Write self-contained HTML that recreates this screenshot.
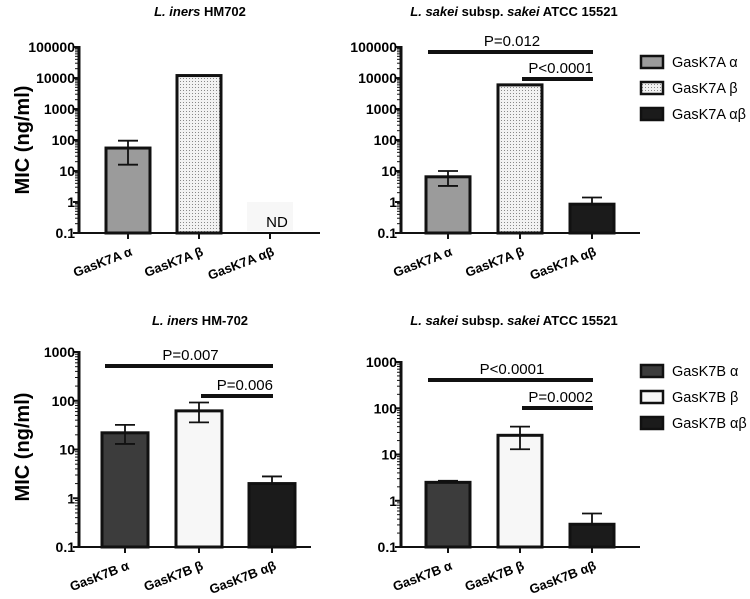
<!DOCTYPE html>
<html><head><meta charset="utf-8"><style>
html,body{margin:0;padding:0;background:#fff;}
svg{display:block;font-family:"Liberation Sans",Arial,sans-serif;}
</style></head><body>
<svg id="fig" width="750" height="599" viewBox="0 0 750 599" xmlns="http://www.w3.org/2000/svg">
<defs>
<pattern id="dots" width="3" height="3" patternUnits="userSpaceOnUse">
<rect width="3" height="3" fill="#f2f2f2"/><rect width="1" height="1" fill="#888"/>
</pattern>
</defs>
</svg>
<script>
const categoriesA = ["GasK7A α","GasK7A β","GasK7A αβ"];
const categoriesB = ["GasK7B α","GasK7B β","GasK7B αβ"];
const valsTL = [55, 12000, null];
const errLoTL = [16, null, null];
const errHiTL = [95, null, null];
const valsTR = [6.5, 6000, 0.85];
const errLoTR = [3.3, null, null];
const errHiTR = [10, null, 1.4];
const valsBL = [22, 62, 2.0];
const errLoBL = [13, 36, null];
const errHiBL = [32, 92, 2.8];
const valsBR = [2.5, 26, 0.31];
const errLoBR = [null, 13, null];
const errHiBR = [2.7, 40, 0.53];
const ticksTop = [0.1, 1, 10, 100, 1000, 10000, 100000];
const tickLabelsTop = ["0.1","1","10","100","1000","10000","100000"];
const ticksBot = [0.1, 1, 10, 100, 1000];
const tickLabelsBot = ["0.1","1","10","100","1000"];
const pTR = ["P=0.012","P<0.0001"];
const pBL = ["P=0.007","P=0.006"];
const pBR = ["P<0.0001","P=0.0002"];

const NS="http://www.w3.org/2000/svg";
const svg=document.getElementById('fig');
function mk(tag,attrs,parent,text){const e=document.createElementNS(NS,tag);for(const k in attrs)e.setAttribute(k,attrs[k]);if(text!==undefined)e.textContent=text;(parent||svg).appendChild(e);return e;}

function panel(o){
  const g=mk('g',{});
  
  
  const lmin=Math.log10(o.ymin), lmax=Math.log10(o.ymax);
  const y=v=>o.y0-(Math.log10(v)-lmin)/(lmax-lmin)*(o.y0-o.y1);
  const xc=i=>o.xs[i];
  const t=mk('text',{x:o.titleX,y:o.titleY,'text-anchor':'middle','font-size':13,'font-weight':'bold'},g);
  
  
  o.title.forEach(p=>{const s=mk('tspan',{},t,p[0]); if(p[1]) s.setAttribute('font-style','italic');});
  o.vals.forEach((v,i)=>{
    if(v===null) return;
    const r=mk('rect',{x:xc(i)-o.bw/2,y:y(v),width:o.bw,height:o.y0-y(v),fill:o.fills[i],stroke:'#111','stroke-width':3},g);
    
    
    const hi=o.hi[i], lo=o.lo[i];
    if(hi!==null){mk('line',{x1:xc(i),x2:xc(i),y1:y(v),y2:y(hi),stroke:'#111','stroke-width':1.8},g);
      mk('line',{x1:xc(i)-10,x2:xc(i)+10,y1:y(hi),y2:y(hi),stroke:'#111','stroke-width':1.8},g);}
    if(lo!==null){mk('line',{x1:xc(i),x2:xc(i),y1:y(v),y2:y(lo),stroke:'#111','stroke-width':1.8},g);
      mk('line',{x1:xc(i)-10,x2:xc(i)+10,y1:y(lo),y2:y(lo),stroke:'#111','stroke-width':1.8},g);}
  });
  if(o.nd){
    mk('rect',{x:xc(2)-23,y:y(1),width:46,height:o.y0-y(1)-2,fill:'#f7f7f7'},g);
    const n=mk('text',{x:xc(2)+7,y:o.y0-6,'text-anchor':'middle','font-size':15},g,'ND');
    
    
  }
  const ax=mk('line',{x1:o.x0,x2:o.x0,y1:o.y1-1,y2:o.y0+1,stroke:'#111','stroke-width':3},g);
  
  
  const xa=mk('line',{x1:o.x0-4,x2:o.xend,y1:o.y0,y2:o.y0,stroke:'#111','stroke-width':2},g);
  
  
  for(let d=lmin;d<lmax-0.01;d++){for(let m=2;m<10;m++){const yy=y(Math.pow(10,d)*m);mk('line',{x1:o.x0-4,x2:o.x0,y1:yy,y2:yy,stroke:'#111','stroke-width':1},g);}}
  o.ticks.forEach((tv,i)=>{
    mk('line',{x1:o.x0-6,x2:o.x0,y1:y(tv),y2:y(tv),stroke:'#111','stroke-width':2},g);
    const tl=mk('text',{x:o.x0-4,y:y(tv)+5,'text-anchor':'end','font-size':14,'font-weight':'bold'},g,o.tickLabels[i]);
    
    
  });
  o.cats.forEach((c,i)=>{
    mk('line',{x1:xc(i),x2:xc(i),y1:o.y0,y2:o.y0+6,stroke:'#111','stroke-width':2},g);
    const lx=xc(i)+5, ly=o.y0+22;
    const cl=mk('text',{x:lx,y:ly,'text-anchor':'end','font-size':13,'font-weight':'bold',transform:`rotate(-21 ${lx} ${ly})`},g,c);
    
    
  });
  if(o.ylab){
    const yl=mk('text',{x:0,y:0,'text-anchor':'middle','font-size':20,'font-weight':'bold',transform:`translate(29 ${o.ylabY}) rotate(-90)`},g,'MIC (ng/ml)');
    
    
  }
  if(o.p){
    const b1=mk('line',{x1:xc(0)-20,x2:xc(2)+1,y1:o.py[0],y2:o.py[0],stroke:'#111','stroke-width':4},g);
    
    
    mk('text',{x:(xc(0)+xc(2))/2-8,y:o.py[0]-6,'text-anchor':'middle','font-size':15},g,o.p[0]);
    const b2=mk('line',{x1:xc(1)+2,x2:xc(2)+1,y1:o.py[1],y2:o.py[1],stroke:'#111','stroke-width':4},g);
    
    
    mk('text',{x:xc(2)+1,y:o.py[1]-6,'text-anchor':'end','font-size':15},g,o.p[1]);
  }
  if(o.legend){
    o.cats.forEach((c,i)=>{
      const ly=o.legY+i*26;
      const lg=mk('g',{},g);
      
      
      mk('rect',{x:641,y:ly-6,width:22,height:12,fill:o.fills[i],stroke:'#111','stroke-width':2.5},lg);
      mk('text',{x:672,y:ly+5,'font-size':14.5},lg,c);
    });
  }
}
const fillsA=['#9b9b9b','url(#dots)','#1b1b1b'];
const fillsB=['#3c3c3c','#f7f7f7','#1b1b1b'];
panel({name:'panel-iners-gask7a',title:[['L. iners',1],[' HM702',0]],titleX:200,titleY:16,x0:79,xend:320,y0:233,y1:47,ymin:0.1,ymax:100000,xs:[128,199,270],bw:44,vals:valsTL,lo:errLoTL,hi:errHiTL,cats:categoriesA,fills:fillsA,ticks:ticksTop,tickLabels:tickLabelsTop,ylab:true,ylabY:140,nd:true});
panel({name:'panel-sakei-gask7a',title:[['L. sakei',1],[' subsp. ',0],['sakei',1],['  ATCC 15521',0]],titleX:514,titleY:16,x0:401,xend:640,y0:233,y1:47,ymin:0.1,ymax:100000,xs:[448,520,592],bw:44,vals:valsTR,lo:errLoTR,hi:errHiTR,cats:categoriesA,fills:fillsA,ticks:ticksTop,tickLabels:tickLabelsTop,p:pTR,py:[52,79],legend:true,legY:62});
panel({name:'panel-iners-gask7b',title:[['L. iners',1],[' HM-702',0]],titleX:200,titleY:325,x0:79,xend:311,y0:547,y1:352,ymin:0.1,ymax:1000,xs:[125,199,272],bw:46,vals:valsBL,lo:errLoBL,hi:errHiBL,cats:categoriesB,fills:fillsB,ticks:ticksBot,tickLabels:tickLabelsBot,ylab:true,ylabY:447,p:pBL,py:[366,396]});
panel({name:'panel-sakei-gask7b',title:[['L. sakei',1],[' subsp. ',0],['sakei',1],['  ATCC 15521',0]],titleX:514,titleY:325,x0:401,xend:640,y0:547,y1:362,ymin:0.1,ymax:1000,xs:[448,520,592],bw:44,vals:valsBR,lo:errLoBR,hi:errHiBR,cats:categoriesB,fills:fillsB,ticks:ticksBot,tickLabels:tickLabelsBot,p:pBR,py:[380,408],legend:true,legY:371});
</script>
</body></html>
